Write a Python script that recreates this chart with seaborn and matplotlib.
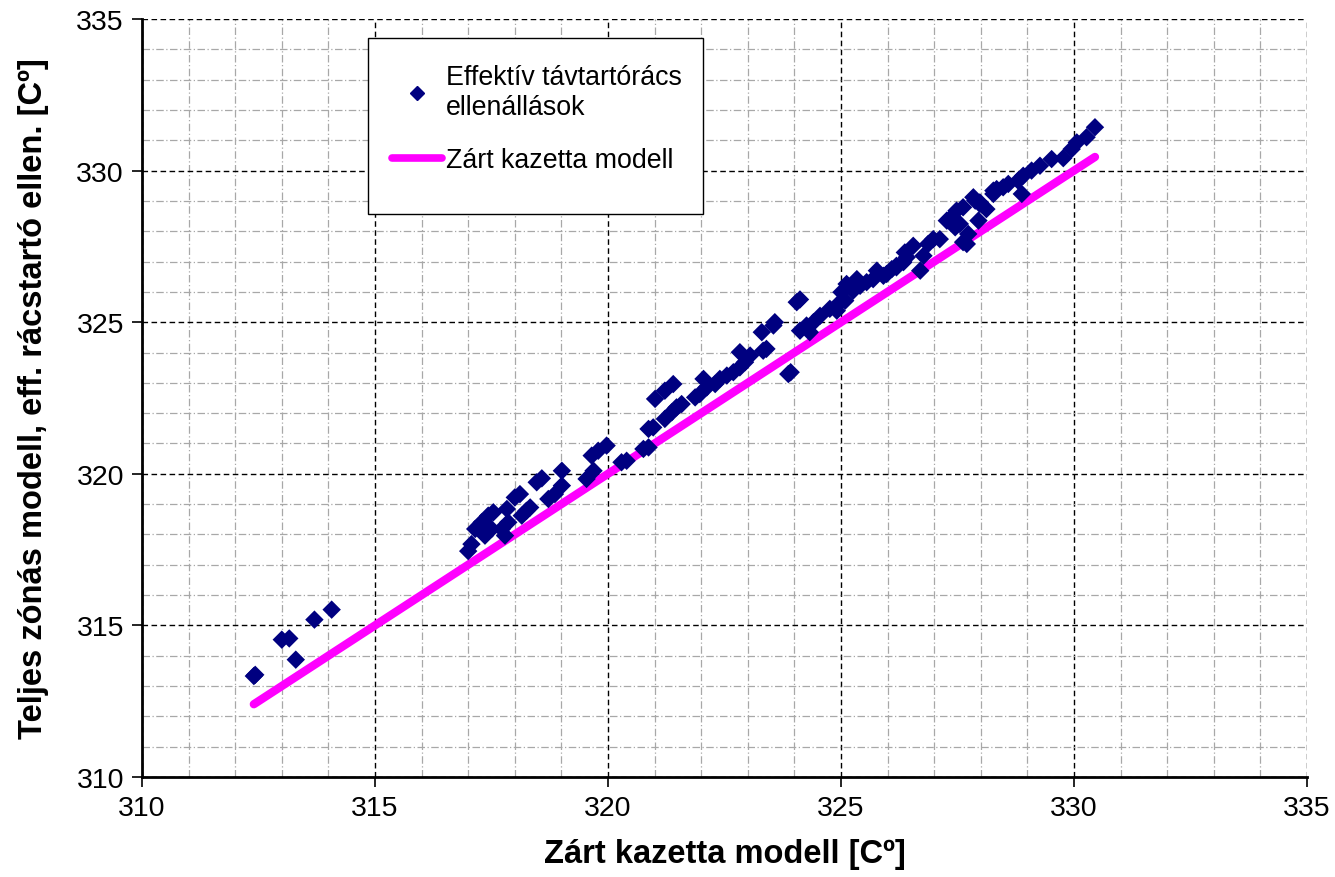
import matplotlib
matplotlib.use("Agg")
import matplotlib.pyplot as plt
import seaborn as sns
import pandas as pd
from matplotlib.lines import Line2D
from matplotlib.patches import Rectangle

# ---- data ----
eff_x = [312.43, 312.40, 313.00, 313.16, 313.30, 313.70, 314.07,
         317.00, 317.07, 317.15, 317.29, 317.43, 317.54, 317.36, 317.50, 317.72, 317.79,
         317.86, 317.83, 318.00, 318.11, 318.15, 318.25, 318.33, 318.47, 318.58, 318.72,
         318.86, 319.01, 319.01, 319.54, 319.69, 319.65, 319.79, 319.97, 320.29,
         320.40, 320.76, 320.87, 320.87, 320.97, 321.01, 321.22, 321.40, 321.22, 321.37,
         321.47, 321.58, 321.87, 321.97, 322.05, 322.12, 322.30, 322.40, 322.55, 322.69,
         322.83, 322.94, 322.83, 323.05, 323.33, 323.30,
         323.40, 323.58, 323.55, 324.05, 324.12, 323.87, 323.92, 324.12, 324.33, 324.26,
         324.41, 324.55, 324.76, 324.91, 324.98, 325.09, 325.01, 325.12, 325.34, 325.26,
         325.41, 325.55, 325.77, 325.69, 325.91, 326.09, 326.19, 326.34, 326.41,
         325.98, 326.19, 326.37, 326.55, 326.70, 326.77, 326.87, 326.98, 327.12, 327.27,
         327.37, 327.45, 327.55, 327.62, 327.70, 327.73, 327.88, 327.98, 327.95, 328.12,
         328.27, 328.34, 327.62, 327.48, 327.84, 327.98, 328.27, 328.48, 328.59, 328.80,
         328.88, 328.91, 329.09, 329.27, 329.52, 329.77, 329.95, 330.06, 330.27, 330.45]
eff_y = [313.37, 313.33, 314.53, 314.57, 313.87, 315.19, 315.52,
         317.45, 317.68, 318.18, 318.40, 318.62, 318.73, 317.96, 318.18, 318.18, 317.96,
         318.40, 318.84, 319.22, 319.33, 318.62, 318.78, 318.89, 319.72, 319.85, 319.17,
         319.33, 319.61, 320.10, 319.83, 320.10, 320.60, 320.76, 320.93, 320.38,
         320.43, 320.82, 320.87, 321.48, 321.53, 322.47, 322.74, 322.96, 321.81, 322.03,
         322.19, 322.30, 322.52, 322.63, 323.13, 322.85, 322.96, 323.13, 323.24, 323.35,
         323.51, 323.68, 324.01, 323.90, 324.06, 324.67,
         324.12, 325.00, 324.89, 325.66, 325.75, 323.29, 323.35, 324.72, 324.67, 324.89,
         325.00, 325.21, 325.44, 325.38, 325.66, 325.71, 325.99, 326.26, 326.42, 326.04,
         326.20, 326.32, 326.70, 326.42, 326.53, 326.75, 326.81, 326.98, 327.14,
         326.59, 326.86, 327.30, 327.52, 326.70, 327.19, 327.58, 327.74, 327.74, 328.35,
         328.46, 328.13, 328.24, 328.79, 327.58, 327.91, 329.01, 328.90, 328.35, 328.73,
         329.23, 329.39, 327.64, 328.68, 329.12, 328.95, 329.34, 329.45, 329.56, 329.67,
         329.23, 329.83, 330.00, 330.16, 330.38, 330.41, 330.71, 330.93, 331.10, 331.43]

model_x = [312.4, 330.45]
model_y = [312.4, 330.45]

ticks = [310, 315, 320, 325, 330, 335]
label_scatter = "Effektív távtartórács\nellenállások"
label_line = "Zárt kazetta modell"
xlabel = "Zárt kazetta modell [Cº]"
ylabel = "Teljes zónás modell, eff. rácstartó ellen. [Cº]"

# ---- plotting ----
sns.set_style("white")
plt.rcParams["font.family"] = ["Liberation Sans", "DejaVu Sans"]
plt.rcParams["text.color"] = "black"
plt.rcParams["axes.labelcolor"] = "black"

fig = plt.figure(figsize=(13.35, 8.78), dpi=100)
ax = fig.add_axes([142/1335, 100/878, 1165/1335, 758/878])

ax.set_xlim(310, 335)
ax.set_ylim(310, 335)
ax.set_xticks(ticks)
ax.set_yticks(ticks)
ax.set_xticks(range(310, 336), minor=True)
ax.set_yticks(range(310, 336), minor=True)
ax.grid(which="minor", color="#a8a8a8", linestyle=(0, (6, 2, 1, 2)), linewidth=0.9, zorder=0)
ax.grid(which="major", color="black", linestyle=(0, (4, 2.5)), linewidth=1.0, zorder=0)
ax.set_axisbelow(True)

df_line = pd.DataFrame({"x": model_x, "y": model_y})
sns.lineplot(data=df_line, x="x", y="y", ax=ax, color="#ff00ff", linewidth=6,
             solid_capstyle="round", zorder=2, legend=False)
df_pts = pd.DataFrame({"x": eff_x, "y": eff_y})
sns.scatterplot(data=df_pts, x="x", y="y", ax=ax, marker="D", s=88, color="#000080",
                edgecolor="none", linewidth=0, zorder=3, legend=False)

for s in ["top", "right"]:
    ax.spines[s].set_visible(False)
for s in ["left", "bottom"]:
    ax.spines[s].set_color("black")
    ax.spines[s].set_linewidth(2)

ax.tick_params(which="major", direction="out", length=7, width=1.2, colors="black",
               labelsize=20.5, left=True, bottom=True, pad=6)
ax.tick_params(which="minor", length=0)

ax.set_xlabel(xlabel, fontsize=23.5, fontweight="bold", labelpad=12, color="black")
ax.set_ylabel(ylabel, fontsize=23.5, fontweight="bold", labelpad=20, color="black")

# legend frame (white box with black border)
ax.add_patch(Rectangle(((368-142)/1165, (778-215)/758), (703-368)/1165, (215-39)/758,
                       transform=ax.transAxes, facecolor="white", edgecolor="black",
                       linewidth=1.0, zorder=5))

handles = [
    Line2D([], [], marker="D", linestyle="none", color="#000080", markersize=7.5),
    Line2D([], [], color="#ff00ff", linewidth=5.5, solid_capstyle="round"),
]
leg = ax.legend(handles, [label_scatter, label_line], loc="upper left",
                bbox_to_anchor=((368-142)/1165, (778-41)/758), fontsize=19.3,
                frameon=False, borderpad=0.9, labelspacing=1.0, handlelength=1.85,
                handletextpad=0.15, borderaxespad=0)
leg.set_zorder(6)
for t in leg.get_texts():
    t.set_color("black")

fig.savefig("out.png", dpi=100)
